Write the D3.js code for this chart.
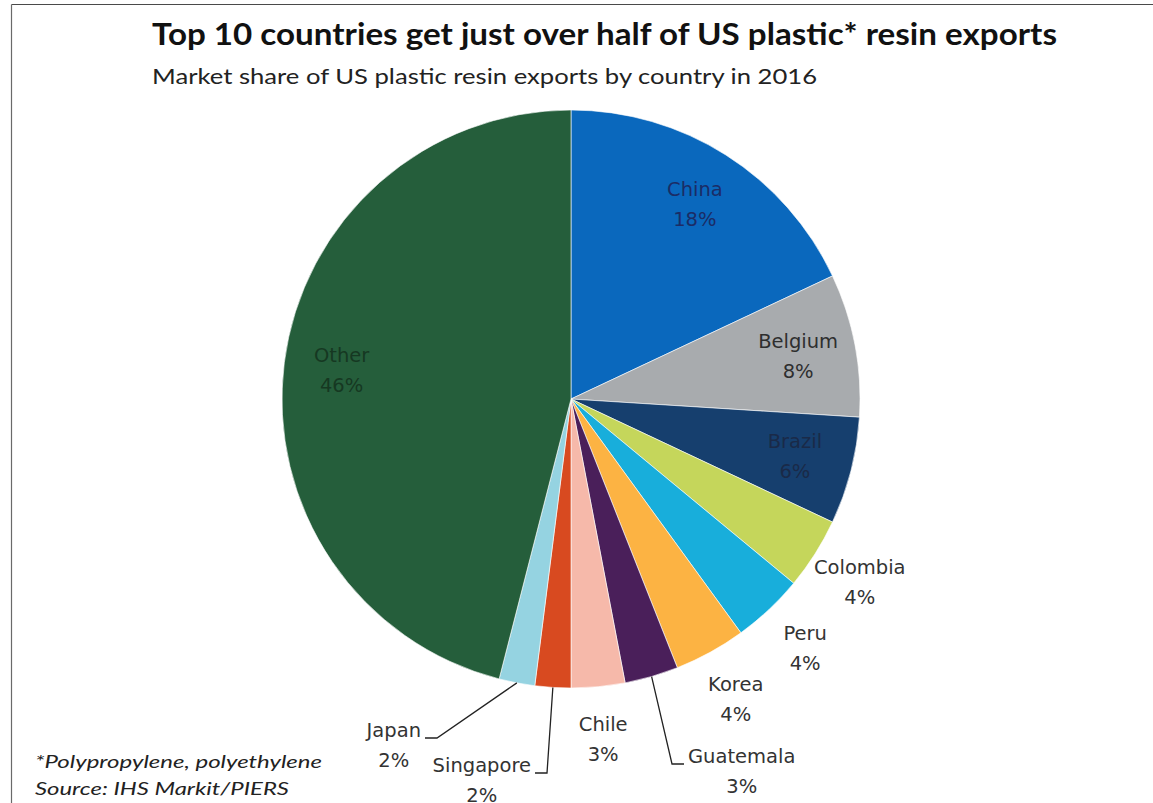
<!DOCTYPE html>
<html>
<head>
<meta charset="utf-8">
<script src="https://cdn.jsdelivr.net/npm/d3@7"></script>
<style>
  html, body { margin: 0; padding: 0; background: #fff; }
  svg { display: block; }
</style>
</head>
<body>
<svg id="chart" width="1153" height="803"></svg>
<script>
// US plastic resin export market share by destination, 2016 (percent)
const countries = ["China", "Belgium", "Brazil", "Colombia", "Peru", "Korea",
                   "Guatemala", "Chile", "Singapore", "Japan", "Other"];
const shares    = [18, 8, 6, 4, 4, 4, 3, 3, 2, 2, 46];
const palette   = ["#0a68bd", "#a8abae", "#163f6e", "#c5d65b", "#18aedb", "#fcb343",
                   "#4a1f5a", "#f6b9aa", "#d84a20", "#95d3e1", "#255e3b"];

const titleText    = "Top 10 countries get just over half of US plastic* resin exports";
const subtitleText = "Market share of US plastic resin exports by country in 2016";
const noteLines    = ["*Polypropylene, polyethylene", "Source:  IHS Markit/PIERS"];

// label placement: inside the slice, outside next to it, or via a leader line
const insideLabels = ["China", "Belgium", "Brazil", "Other"];
const insideInk = { China: "#1b2c66", Belgium: "#2e2e2e", Brazil: "#1a2a48", Other: "#163822" };
const calloutElbows = { Guatemala: [101, 365, 1], Singapore: [-24, 374, -1], Japan: [-134, 339, -1] };

const svg = d3.select("#chart");
const W = 1153, H = 803;
const cx = 571, cy = 399, R = 289;

// frame lines
svg.append("line").attr("x1", 11.5).attr("y1", 4.5).attr("x2", W).attr("y2", 4.5)
  .attr("stroke", "#4a4a4a").attr("stroke-width", 1.2);
svg.append("line").attr("x1", 11.5).attr("y1", 4.5).attr("x2", 11.5).attr("y2", H)
  .attr("stroke", "#6a6a6a").attr("stroke-width", 1.2);

// titles
svg.append("text").attr("x", 152).attr("y", 45)
  .attr("font-family", "Lato, 'Open Sans', sans-serif").attr("font-weight", 700)
  .attr("font-size", 31).attr("fill", "#111")
  .attr("textLength", 905).attr("lengthAdjust", "spacingAndGlyphs")
  .text(titleText);
svg.append("text").attr("x", 152).attr("y", 84)
  .attr("font-family", "Lato, 'Open Sans', sans-serif")
  .attr("font-size", 22).attr("fill", "#222")
  .attr("textLength", 665).attr("lengthAdjust", "spacingAndGlyphs")
  .text(subtitleText);

// footnote
svg.append("g").selectAll("text").data(noteLines).join("text")
  .attr("x", 35).attr("y", (d, i) => 768 + i * 27)
  .attr("font-family", "Lato, 'Open Sans', sans-serif").attr("font-style", "italic")
  .attr("font-size", 18).attr("fill", "#222")
  .attr("textLength", (d, i) => i === 0 ? 287 : 254).attr("lengthAdjust", "spacingAndGlyphs")
  .text(d => d);

// pie
const data = countries.map((c, i) => ({ name: c, value: shares[i], color: palette[i] }));
const pie = d3.pie().value(d => d.value).sort(null);
const arcs = pie(data);
const arc = d3.arc().innerRadius(0).outerRadius(R);

const g = svg.append("g").attr("transform", `translate(${cx},${cy})`);
g.selectAll("path.slice").data(arcs).join("path")
  .attr("class", "slice")
  .attr("d", arc)
  .attr("fill", d => d.data.color)
  .attr("stroke", "#ffffff").attr("stroke-width", 0.6).attr("stroke-linejoin", "round");

const fmt = d => d3.format(".0f")(d) + "%";
const labelFont = "'DejaVu Sans', Verdana, sans-serif";
const labelSize = 19.5;

const insideArc = d3.arc().innerRadius(R * 0.8).outerRadius(R * 0.8);
const outsideArc = d3.arc().innerRadius(342).outerRadius(342);
const edgeArc = d3.arc().innerRadius(R).outerRadius(R);

function twoLine(sel, x, y, d, ink) {
  const t = sel.append("g").attr("font-family", labelFont).attr("font-size", labelSize)
    .attr("fill", ink).attr("text-anchor", "middle");
  t.append("text").attr("x", x).attr("y", y - 8).text(d.data.name);
  t.append("text").attr("x", x).attr("y", y + 22).text(fmt(d.data.value));
  return t;
}

const labels = g.append("g");
arcs.forEach(d => {
  const name = d.data.name;
  if (insideLabels.includes(name)) {
    const [x, y] = insideArc.centroid(d);
    twoLine(labels, x, y, d, insideInk[name]);
  } else if (calloutElbows[name]) {
    const [ex, ey, dir] = calloutElbows[name];
    const [sx, sy] = edgeArc.centroid(d);
    const tx = ex + dir * 12;
    labels.append("path")
      .attr("d", `M${sx},${sy}L${ex},${ey}L${tx},${ey}`)
      .attr("fill", "none").attr("stroke", "#222").attr("stroke-width", 1.3);
    // measure the name to center both lines beside the leader end
    const probe = labels.append("text").attr("font-family", labelFont)
      .attr("font-size", labelSize).text(name);
    const w = probe.node().getComputedTextLength();
    probe.remove();
    const mx = tx + dir * (4 + w / 2);
    twoLine(labels, mx, ey + 7, d, "#333");
  } else {
    const [x, y] = outsideArc.centroid(d);
    twoLine(labels, x, y, d, "#333");
  }
});
</script>
</body>
</html>
